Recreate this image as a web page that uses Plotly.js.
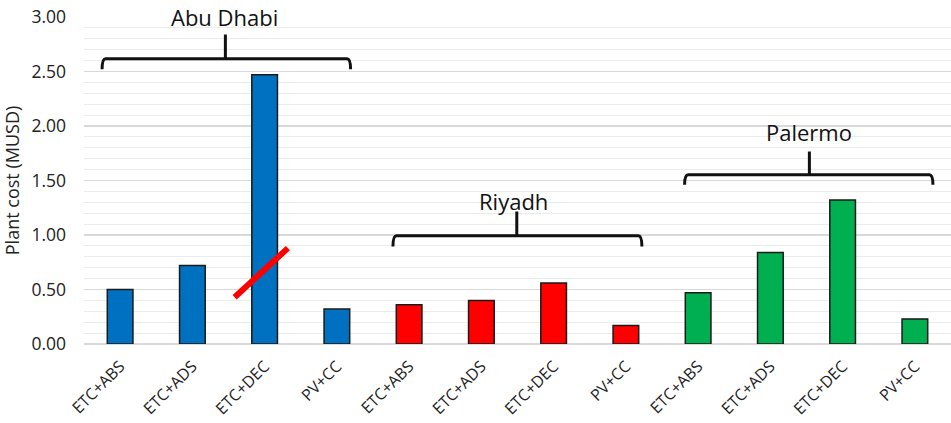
<!DOCTYPE html>
<html>
<head>
<meta charset="utf-8">
<script src="https://cdn.plot.ly/plotly-3.0.1.min.js"></script>
<style>html,body{margin:0;padding:0;background:#fff}#chart{width:951px;height:423px}</style>
</head>
<body>
<div id="chart"></div>
<script>
// ---- data ----
var categories = ["ETC+ABS","ETC+ADS","ETC+DEC","PV+CC",
                  "ETC+ABS","ETC+ADS","ETC+DEC","PV+CC",
                  "ETC+ABS","ETC+ADS","ETC+DEC","PV+CC"];
var cities = ["Abu Dhabi","Riyadh","Palermo"];
var abuDhabiCost = [0.50, 0.72, 2.47, 0.32];
var riyadhCost   = [0.36, 0.40, 0.56, 0.17];
var palermoCost  = [0.47, 0.84, 1.32, 0.23];
var yTickVals = [0, 0.5, 1, 1.5, 2, 2.5, 3];

// ---- styles ----
var colors = ["#0070C0", "#FF0000", "#00B050"];
var series = [abuDhabiCost, riyadhCost, palermoCost];
var font = "Open Sans, Arial, sans-serif";

var traces = series.map(function(vals, g){
  return {
    type: "bar",
    name: cities[g],
    x: vals.map(function(_, i){ return g*4 + i; }),
    y: vals,
    width: 0.355,
    marker: {color: colors[g], line: {color: "#1a1a1a", width: 1.5}},
    hoverinfo: "y"
  };
});

// bracket geometry (positions in axis units)
var brackets = [
  {x0:-0.25, x1:3.19, xm:1.457, yh:2.617, ye:2.52, yt:2.84, lx:1.446, ly:2.999},
  {x0:3.776, x1:7.222, xm:5.49, yh:0.993, ye:0.894, yt:1.216, lx:5.446, ly:1.308},
  {x0:7.813, x1:11.25, xm:9.54, yh:1.553, ye:1.461, yt:1.767, lx:9.537, ly:1.942}
];
var shapes = [];
var annotations = [];
brackets.forEach(function(b, g){
  var rx = 0.05;
  var p = "M " + b.x0 + "," + b.ye +
          " Q " + b.x0 + "," + b.yh + " " + (b.x0+rx) + "," + b.yh +
          " L " + (b.x1-rx) + "," + b.yh +
          " Q " + b.x1 + "," + b.yh + " " + b.x1 + "," + b.ye +
          " M " + b.xm + "," + b.yh + " L " + b.xm + "," + b.yt;
  shapes.push({type:"path", xref:"x", yref:"y", path:p,
               line:{color:"#111", width:3}, layer:"above"});
  annotations.push({xref:"x", yref:"y", x:b.lx, y:b.ly, text:cities[g],
                    showarrow:false, font:{family:font, size:22, color:"#111"}});
});
// red break mark on the tall bar
shapes.push({type:"line", xref:"x", yref:"y", x0:1.585, y0:0.429, x1:2.322, y1:0.88,
             line:{color:"#FF0000", width:6}, layer:"above"});

var layout = {
  width: 951, height: 423,
  margin: {l:84, r:0, t:17, b:79},
  paper_bgcolor: "#fff", plot_bgcolor: "#fff",
  showlegend: false,
  font: {family: font, color: "#222"},
  xaxis: {
    range: [-0.5, 11.5],
    tickmode: "array",
    tickvals: categories.map(function(_, i){ return i; }),
    ticktext: categories,
    tickangle: -45,
    tickfont: {family: font, size: 16, color: "#222"},
    showgrid: false, zeroline: false, showline: false, ticks: "",
    ticklabelstandoff: 9
  },
  yaxis: {
    range: [0, 3],
    tickmode: "array",
    tickvals: yTickVals,
    ticktext: yTickVals.map(function(v){ return v.toFixed(2); }),
    tickfont: {family: font, size: 17.5, color: "#222"},
    gridcolor: "#d9d9d9", gridwidth: 1.3,
    zeroline: true, zerolinecolor: "#d9d9d9", zerolinewidth: 1.3,
    showline: false, ticks: "",
    ticklabelstandoff: 17,
    minor: {dtick: 0.1, tick0: 0, showgrid: true, gridcolor: "#ececec", gridwidth: 1},
    title: {text: "Plant cost (MUSD)", font: {family: font, size: 18, color: "#222"}, standoff: 10}
  },
  shapes: shapes,
  annotations: annotations
};

Plotly.newPlot("chart", traces, layout, {displayModeBar: false, staticPlot: true});
</script>
</body>
</html>
